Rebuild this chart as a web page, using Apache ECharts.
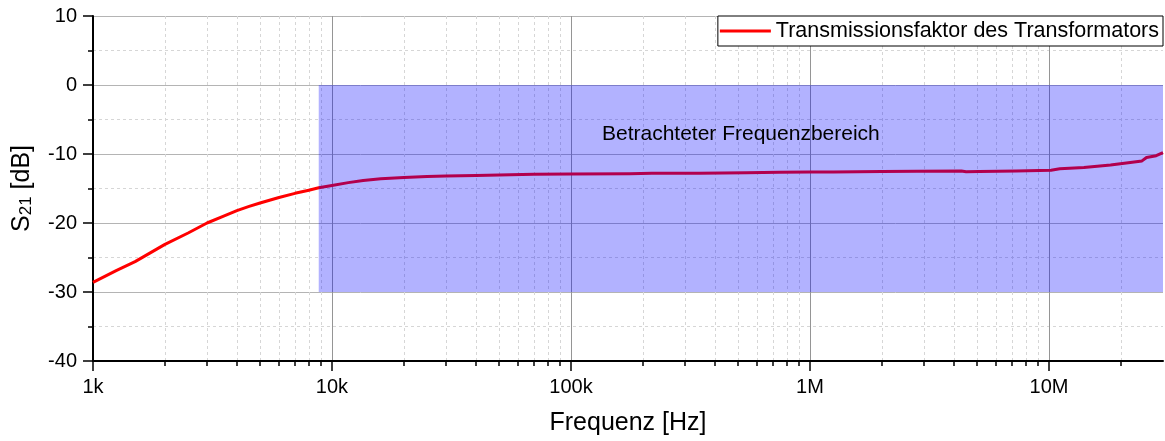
<!DOCTYPE html>
<html>
<head>
<meta charset="utf-8">
<script src="https://cdn.jsdelivr.net/npm/echarts@6/dist/echarts.min.js"></script>
<style>
  html, body { margin: 0; padding: 0; background: #fff; }
  #chart { width: 1165px; height: 441px; }
</style>
</head>
<body>
<div id="chart"></div>
<script>
// Frequency sweep of the transformer's transmission factor S21
const freqHz = [
  1000, 1250, 1500, 2000, 2500, 3000, 3500, 4000, 4500, 5000, 6000, 7000, 8000, 8800,
  10000, 11700, 13500, 16000, 20000, 25000, 30000, 40000, 50000, 70000,
  100000, 176000, 218000, 343000, 543000, 745000, 1000000, 1250000,
  2000000, 2800000, 4300000, 4500000, 5100000, 7300000, 10200000,
  11100000, 14000000, 18100000, 22300000, 24500000, 25600000, 28100000, 30000000
];
const s21dB = [
  -28.6, -26.9, -25.6, -23.1, -21.45, -20.0, -19.05, -18.2, -17.6, -17.1, -16.3, -15.7, -15.25, -14.9,
  -14.57, -14.15, -13.85, -13.6, -13.4, -13.25, -13.2, -13.1, -13.05, -12.95,
  -12.9, -12.85, -12.8, -12.78, -12.7, -12.65, -12.6, -12.6,
  -12.55, -12.5, -12.45, -12.56, -12.52, -12.45, -12.35,
  -12.15, -11.95, -11.6, -11.2, -11.0, -10.5, -10.25, -9.8
];

// Decade ticks and their labels
const decadeTicks = [1e3, 1e4, 1e5, 1e6, 1e7];
const decadeLabels = ['1k', '10k', '100k', '1M', '10M'];

// Frequency band under consideration (Hz) and its level range (dB)
const bandFreq = [8800, 30000000];
const bandLevel = [0, -30];
const bandText = 'Betrachteter Frequenzbereich';

const seriesName = 'Transmissionsfaktor des Transformators';

// Minor ticks at 2..9 of every decade
const minorTicks = [];
for (let e = 3; e <= 7; e++) {
  for (let k = 2; k <= 9; k++) {
    const v = k * Math.pow(10, e);
    if (v < 3e7) minorTicks.push(v);
  }
}

const font = '"Liberation Sans", Arial, sans-serif';
const black = '#000';

const chart = echarts.init(document.getElementById('chart'), null, { renderer: 'canvas' });

chart.setOption({
  animation: false,
  backgroundColor: '#fff',
  textStyle: { fontFamily: font },
  grid: { left: 93, right: 2, top: 16, bottom: 80, containLabel: false },
  legend: {
    data: [{ name: seriesName, icon: 'rect' }],
    right: 2,
    top: 16,
    itemWidth: 51,
    itemHeight: 3,
    itemGap: 5,
    padding: [4, 4, 4, 2],
    backgroundColor: '#fff',
    borderColor: '#000',
    borderWidth: 1,
    borderRadius: 0,
    textStyle: { fontFamily: font, fontSize: 21.5, color: black, padding: [0, 0, 0, 0] }
  },
  xAxis: [
    {
      type: 'log',
      logBase: 10,
      min: 1000,
      max: 3e7,
      position: 'bottom',
      name: 'Frequenz [Hz]',
      nameLocation: 'middle',
      nameGap: 50,
      nameTextStyle: { fontFamily: font, fontSize: 25, color: black },
      axisLine: { show: true, onZero: false, lineStyle: { color: black, width: 2 } },
      axisTick: { show: true, inside: false, length: 10, customValues: decadeTicks, lineStyle: { color: black, width: 1.5 } },
      axisLabel: {
        show: true,
        margin: 16,
        customValues: decadeTicks,
        fontFamily: font,
        fontSize: 20,
        color: black,
        formatter: function (v) {
          const i = decadeTicks.findIndex(t => Math.abs(t - v) / t < 1e-6);
          return i >= 0 ? decadeLabels[i] : '';
        }
      },
      splitLine: { show: true, lineStyle: { color: '#959595', width: 1, type: 'solid' } },
      minorTick: { show: false },
      minorSplitLine: { show: false }
    },
    {
      type: 'log',
      logBase: 10,
      min: 1000,
      max: 3e7,
      position: 'bottom',
      axisLine: { show: false, onZero: false },
      axisTick: { show: true, inside: false, length: 5, customValues: minorTicks, lineStyle: { color: black, width: 1.5 } },
      axisLabel: { show: false },
      splitLine: { show: true, lineStyle: { color: '#d6d6d6', width: 1, type: [3, 3] } }
    }
  ],
  yAxis: {
    type: 'value',
    min: -40,
    max: 10,
    interval: 10,
    name: '{s|S}{sub|21}{s| [dB]}',
    nameLocation: 'middle',
    nameGap: 58,
    nameTextStyle: {
      fontFamily: font,
      color: black,
      rich: {
        s: { fontFamily: font, fontSize: 25, color: black, verticalAlign: 'bottom', lineHeight: 30 },
        sub: { fontFamily: font, fontSize: 17, color: black, verticalAlign: 'bottom', lineHeight: 24 }
      }
    },
    axisLine: { show: true, onZero: false, lineStyle: { color: black, width: 2 } },
    axisTick: { show: true, inside: false, length: 10, lineStyle: { color: black, width: 1.5 } },
    minorTick: { show: true, splitNumber: 2, length: 5, lineStyle: { color: black, width: 1.5 } },
    axisLabel: { margin: 16, fontFamily: font, fontSize: 20, color: black },
    splitLine: { show: true, lineStyle: { color: '#b4b4b4', width: 1 } },
    minorSplitLine: { show: true, lineStyle: { color: '#d6d6d6', width: 1, type: [3, 3] } }
  },
  series: [
    {
      name: seriesName,
      type: 'line',
      xAxisIndex: 0,
      data: freqHz.map((f, i) => [f, s21dB[i]]),
      showSymbol: false,
      symbol: 'none',
      smooth: false,
      z: 2,
      lineStyle: { color: '#ff0000', width: 3, join: 'round' },
      itemStyle: { color: '#ff0000' },
      markArea: {
        silent: true,
        z: 10,
        itemStyle: { color: 'rgba(0, 0, 255, 0.3)' },
        label: {
          show: true,
          position: 'insideTop',
          distance: 39,
          fontFamily: font,
          fontSize: 21,
          color: black
        },
        data: [[
          { name: bandText, coord: [bandFreq[0], bandLevel[0]] },
          { coord: [bandFreq[1], bandLevel[1]] }
        ]]
      }
    }
  ]
});
</script>
</body>
</html>
